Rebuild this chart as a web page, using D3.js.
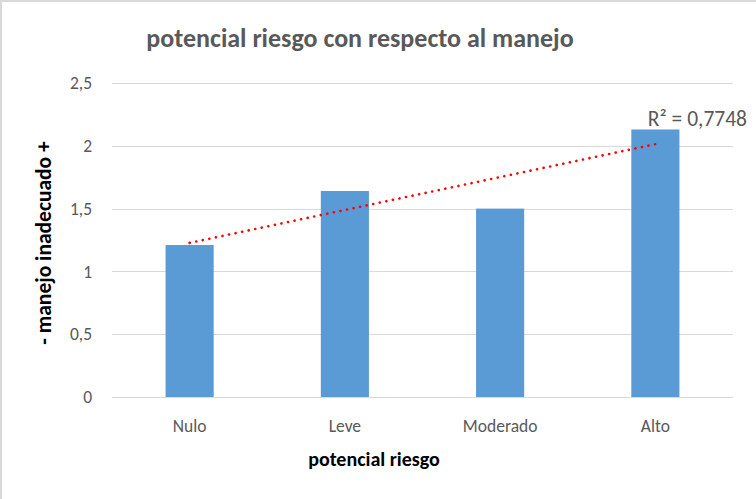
<!DOCTYPE html>
<html>
<head>
<meta charset="utf-8">
<script src="https://cdn.jsdelivr.net/npm/d3@7"></script>
<style>
  body { margin: 0; background: #fff; }
  svg text { font-family: Calibri, Carlito, Lato, sans-serif; }
</style>
</head>
<body>
<script>
// Set up size
var width = 756;
var height = 499;

// Data
var categories = ["Nulo", "Leve", "Moderado", "Alto"];
var values = [1.21, 1.64, 1.5, 2.13];
var yTicks = [0, 0.5, 1, 1.5, 2, 2.5];
var r2Label = "R² = 0,7748";

// Plot area
var plot = {left: 112, right: 733, top: 83, bottom: 397};

var svg = d3.select("body").append("svg")
  .attr("width", width)
  .attr("height", height);

// light frame on left and top edge
svg.append("rect")
  .attr("x", 0).attr("y", 0)
  .attr("width", width).attr("height", height)
  .attr("fill", "#fff");
svg.append("line").attr("x1", 1).attr("x2", 1).attr("y1", 0).attr("y2", height)
  .attr("stroke", "#d9d9d9").attr("stroke-width", 2);
svg.append("line").attr("x1", 0).attr("x2", width).attr("y1", 1).attr("y2", 1)
  .attr("stroke", "#d9d9d9").attr("stroke-width", 2);

var x = d3.scaleBand()
  .domain(categories)
  .range([plot.left, plot.right])
  .paddingInner(0.69)
  .paddingOuter(0.345);

var y = d3.scaleLinear()
  .domain([0, 2.5])
  .range([plot.bottom, plot.top]);

var fmt = function (d) { return String(d).replace(".", ","); };

// gridlines
svg.append("g").selectAll("line")
  .data(yTicks)
  .enter().append("line")
  .attr("x1", plot.left)
  .attr("x2", plot.right)
  .attr("y1", function (d) { return Math.round(y(d)) + 0.5; })
  .attr("y2", function (d) { return Math.round(y(d)) + 0.5; })
  .attr("stroke", "#d9d9d9")
  .attr("stroke-width", 1);

// y tick labels
svg.append("g").selectAll("text")
  .data(yTicks)
  .enter().append("text")
  .attr("x", 92)
  .attr("y", function (d) { return y(d); })
  .attr("dy", "0.35em")
  .attr("text-anchor", "end")
  .attr("font-size", "17.5px")
  .attr("fill", "#595959")
  .text(fmt);

// bars
svg.append("g").selectAll("rect")
  .data(values)
  .enter().append("rect")
  .attr("x", function (d, i) { return x(categories[i]); })
  .attr("width", x.bandwidth())
  .attr("y", function (d) { return y(d); })
  .attr("height", function (d) { return y(0) - y(d); })
  .attr("fill", "#5b9bd5");

// x tick labels
svg.append("g").selectAll("text")
  .data(categories)
  .enter().append("text")
  .attr("x", function (d) { return x(d) + x.bandwidth() / 2; })
  .attr("y", 432)
  .attr("text-anchor", "middle")
  .attr("font-size", "17.5px")
  .attr("fill", "#595959")
  .text(function (d) { return d; });

// linear trendline (least squares over category index)
var n = values.length;
var xs = values.map(function (d, i) { return i + 1; });
var mx = d3.mean(xs), my = d3.mean(values);
var sxy = d3.sum(xs, function (d, i) { return (d - mx) * (values[i] - my); });
var sxx = d3.sum(xs, function (d) { return (d - mx) * (d - mx); });
var slope = sxy / sxx;
var intercept = my - slope * mx;
var trend = [1, n].map(function (k) {
  return [x(categories[k - 1]) + x.bandwidth() / 2, y(intercept + slope * k)];
});

svg.append("path")
  .attr("d", d3.line()(trend))
  .attr("fill", "none")
  .attr("stroke", "#ff0000")
  .attr("stroke-width", 2.6)
  .attr("stroke-linecap", "round")
  .attr("stroke-dasharray", "0.1 6.6");

// R² label
svg.append("text")
  .attr("x", 747)
  .attr("y", 126)
  .attr("text-anchor", "end")
  .attr("font-size", "21.5px")
  .attr("fill", "#595959")
  .text(r2Label);

// title
svg.append("text")
  .attr("x", 360)
  .attr("y", 47)
  .attr("text-anchor", "middle")
  .attr("font-size", "26px")
  .attr("font-weight", "bold")
  .attr("fill", "#595959")
  .text("potencial riesgo con respecto al manejo");

// axis titles
svg.append("text")
  .attr("x", 374)
  .attr("y", 466)
  .attr("text-anchor", "middle")
  .attr("font-size", "20px")
  .attr("font-weight", "bold")
  .attr("fill", "#000")
  .text("potencial riesgo");

svg.append("text")
  .attr("transform", "translate(43,243) rotate(-90)")
  .attr("dy", "0.35em")
  .attr("text-anchor", "middle")
  .attr("font-size", "21.5px")
  .attr("font-weight", "bold")
  .attr("fill", "#000")
  .text("- manejo inadecuado +");
</script>
</body>
</html>
